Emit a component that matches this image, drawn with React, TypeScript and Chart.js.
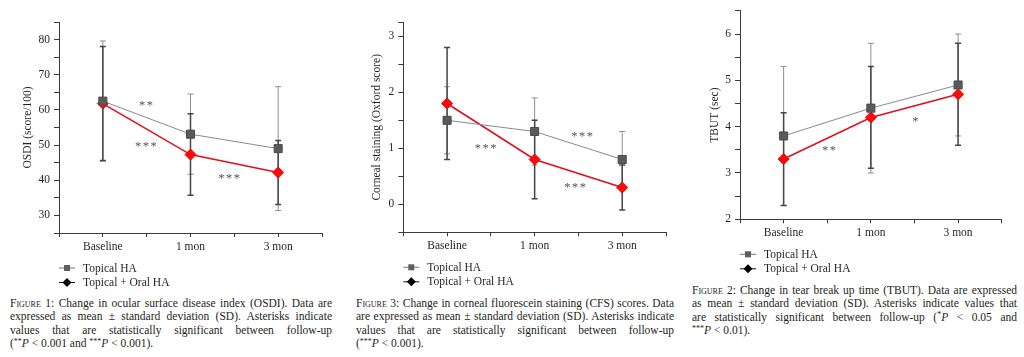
import React, { useEffect, useRef } from 'react';
import { Chart, registerables } from 'chart.js';

Chart.register(...registerables);

// ---------- data ----------
const CATEGORIES = ['Baseline', '1 mon', '3 mon'];
const SERIES_NAMES = ['Topical HA', 'Topical + Oral HA'];

// Figure 1: OSDI
const OSDI_TOPICAL = [62.5, 53.1, 49.0];
const OSDI_TOPICAL_SD = [17.1, 11.4, 17.6];
const OSDI_ORAL = [61.8, 47.3, 42.2];
const OSDI_ORAL_SD = [16.2, 11.6, 9.1];
const OSDI_STAR_X = [0.5, 0.5, 1.45];
const OSDI_STAR_Y = [62.0, 50.3, 41.2];
const OSDI_STAR_TEXT = ['**', '***', '***'];

// Figure 3: corneal staining (Oxford score)
const CFS_TOPICAL = [1.5, 1.3, 0.8];
const CFS_TOPICAL_SD = [0.6, 0.6, 0.5];
const CFS_ORAL = [1.8, 0.8, 0.3];
const CFS_ORAL_SD = [1.0, 0.7, 0.4];
const CFS_STAR_X = [0.45, 1.55, 1.47];
const CFS_STAR_Y = [1.04, 1.25, 0.34];
const CFS_STAR_TEXT = ['***', '***', '***'];

// Figure 2: TBUT
const TBUT_TOPICAL = [3.8, 4.4, 4.9];
const TBUT_TOPICAL_SD = [1.5, 1.4, 1.1];
const TBUT_ORAL = [3.3, 4.2, 4.7];
const TBUT_ORAL_SD = [1.0, 1.1, 1.1];
const TBUT_STAR_X = [0.53, 1.52];
const TBUT_STAR_Y = [3.53, 4.17];
const TBUT_STAR_TEXT = ['**', '*'];

// ---------- styling / layout ----------
const SERIF = '"Liberation Serif", "Times New Roman", serif';
const AXIS_COLOR = '#3a3a3a';
const TEXT_COLOR = '#231f20';

type PanelSpec = {
  left: number; top: number; width: number; height: number;
  area: { l: number; t: number; r: number; b: number };
  yMin: number; yMax: number; yStep: number;
  yLabelMin: number; yLabelMax: number; yLabelStep: number;
  yTitle: string; titleX: number;
  topical: number[]; topicalSd: number[]; oral: number[]; oralSd: number[];
  starX: number[]; starY: number[]; starText: string[];
};

const PANELS: PanelSpec[] = [
  {
    left: 0, top: 0, width: 340, height: 292,
    area: { l: 59, t: 22, r: 322, b: 233 },
    yMin: 25, yMax: 85, yStep: 5, yLabelMin: 30, yLabelMax: 80, yLabelStep: 10,
    yTitle: 'OSDI (score/100)', titleX: 28,
    topical: OSDI_TOPICAL, topicalSd: OSDI_TOPICAL_SD, oral: OSDI_ORAL, oralSd: OSDI_ORAL_SD,
    starX: OSDI_STAR_X, starY: OSDI_STAR_Y, starText: OSDI_STAR_TEXT,
  },
  {
    left: 340, top: 0, width: 340, height: 292,
    area: { l: 63.3, t: 22.3, r: 326, b: 232.3 },
    yMin: -0.5, yMax: 3.25, yStep: 0.5, yLabelMin: 0, yLabelMax: 3, yLabelStep: 1,
    yTitle: 'Corneal staining (Oxford score)', titleX: 36.7,
    topical: CFS_TOPICAL, topicalSd: CFS_TOPICAL_SD, oral: CFS_ORAL, oralSd: CFS_ORAL_SD,
    starX: CFS_STAR_X, starY: CFS_STAR_Y, starText: CFS_STAR_TEXT,
  },
  {
    left: 680, top: 0, width: 344, height: 276,
    area: { l: 60, t: 8.3, r: 321.7, b: 219.3 },
    yMin: 2, yMax: 6.5, yStep: 0.5, yLabelMin: 2, yLabelMax: 6, yLabelStep: 1,
    yTitle: 'TBUT (sec)', titleX: 35,
    topical: TBUT_TOPICAL, topicalSd: TBUT_TOPICAL_SD, oral: TBUT_ORAL, oralSd: TBUT_ORAL_SD,
    starX: TBUT_STAR_X, starY: TBUT_STAR_Y, starText: TBUT_STAR_TEXT,
  },
];

const near = (a: number, b: number) => Math.abs(a - b) < 1e-6;

const errorBarPlugin = {
  id: 'errorBars',
  beforeDatasetsDraw(chart: any) {
    const { ctx } = chart;
    const xs = chart.scales.x;
    const ys = chart.scales.y;
    chart.data.datasets.forEach((ds: any) => {
      ctx.save();
      ctx.strokeStyle = ds.errorColor;
      ctx.lineWidth = ds.errorWidth;
      ds.data.forEach((p: any, j: number) => {
        const sd = ds.sd[j];
        const x = xs.getPixelForValue(p.x);
        const yt = ys.getPixelForValue(p.y + sd);
        const yb = ys.getPixelForValue(p.y - sd);
        ctx.beginPath();
        ctx.moveTo(x, yt);
        ctx.lineTo(x, yb);
        ctx.moveTo(x - 3, yt);
        ctx.lineTo(x + 3, yt);
        ctx.moveTo(x - 3, yb);
        ctx.lineTo(x + 3, yb);
        ctx.stroke();
      });
      ctx.restore();
    });
  },
};

const annotationPlugin = {
  id: 'starsAndLegend',
  afterDraw(chart: any) {
    const { ctx, chartArea } = chart;
    const xs = chart.scales.x;
    const ys = chart.scales.y;
    const spec: PanelSpec = chart.options.plugins.panelSpec;
    // significance asterisks
    ctx.save();
    ctx.fillStyle = '#555';
    ctx.font = `12.5px ${SERIF}`;
    ctx.textAlign = 'center';
    ctx.textBaseline = 'alphabetic';
    (ctx as any).letterSpacing = '1.5px';
    spec.starText.forEach((t, i) => {
      const x = xs.getPixelForValue(spec.starX[i]);
      const y = ys.getPixelForValue(spec.starY[i]);
      ctx.fillText(t, x, y + 6);
    });
    ctx.restore();

    // legend
    ctx.save();
    const L = chartArea.left;
    const rows = [chartArea.bottom + 35, chartArea.bottom + 49.5];
    ctx.font = `11.5px ${SERIF}`;
    ctx.textBaseline = 'middle';
    ctx.textAlign = 'left';
    // Topical HA
    ctx.strokeStyle = '#777';
    ctx.lineWidth = 1;
    ctx.beginPath();
    ctx.moveTo(L, rows[0]);
    ctx.lineTo(L + 16, rows[0]);
    ctx.stroke();
    ctx.fillStyle = '#5e5e5e';
    ctx.fillRect(L + 5, rows[0] - 3, 6, 6);
    ctx.fillStyle = TEXT_COLOR;
    ctx.fillText(SERIES_NAMES[0], L + 24, rows[0] + 0.5);
    // Topical + Oral HA
    ctx.strokeStyle = '#111';
    ctx.beginPath();
    ctx.moveTo(L, rows[1]);
    ctx.lineTo(L + 16, rows[1]);
    ctx.stroke();
    ctx.fillStyle = '#000';
    ctx.beginPath();
    ctx.moveTo(L + 8, rows[1] - 4.5);
    ctx.lineTo(L + 12.5, rows[1]);
    ctx.lineTo(L + 8, rows[1] + 4.5);
    ctx.lineTo(L + 3.5, rows[1]);
    ctx.closePath();
    ctx.fill();
    ctx.fillStyle = TEXT_COLOR;
    ctx.fillText(SERIES_NAMES[1], L + 24, rows[1] + 0.5);
    ctx.restore();
  },
};

function Panel({ spec }: { spec: PanelSpec }) {
  const ref = useRef<HTMLCanvasElement>(null);
  useEffect(() => {
    const s = spec;
    const pts = (ys: number[]) => ys.map((y, i) => ({ x: i, y }));
    const tickFont = { family: SERIF, size: 11.5 };
    const chart = new Chart(ref.current as HTMLCanvasElement, {
      type: 'line',
      data: {
        datasets: [
          {
            label: SERIES_NAMES[0],
            data: pts(s.topical),
            sd: s.topicalSd,
            errorColor: '#8f8f8f',
            errorWidth: 1,
            borderColor: '#8a8a8a',
            borderWidth: 1,
            pointStyle: 'rect',
            pointRadius: 5.7,
            pointBackgroundColor: '#5a5a5a',
            pointBorderColor: '#4a4a4a',
            pointBorderWidth: 1,
            tension: 0,
          } as any,
          {
            label: SERIES_NAMES[1],
            data: pts(s.oral),
            sd: s.oralSd,
            errorColor: '#454545',
            errorWidth: 1.5,
            borderColor: '#e0101a',
            borderWidth: 1.6,
            pointStyle: 'rectRot',
            pointRadius: 5.5,
            pointBackgroundColor: '#ff0a0a',
            pointBorderColor: '#f20000',
            pointBorderWidth: 1,
            tension: 0,
          } as any,
        ],
      },
      options: {
        animation: false,
        responsive: false,
        devicePixelRatio: 1,
        layout: { padding: { left: 0, top: s.area.t, right: s.width - s.area.r, bottom: 0 } },
        plugins: {
          legend: { display: false },
          tooltip: { enabled: false },
          panelSpec: s,
        } as any,
        scales: {
          x: {
            type: 'linear',
            min: -0.5,
            max: 2.5,
            afterFit: (sc: any) => { sc.height = s.height - s.area.b; },
            grid: { drawOnChartArea: false, drawTicks: true, tickLength: 4, color: AXIS_COLOR },
            border: { display: true, color: AXIS_COLOR, width: 1 },
            ticks: {
              stepSize: 0.5,
              autoSkip: false,
              maxRotation: 0,
              minRotation: 0,
              padding: 3,
              color: TEXT_COLOR,
              font: tickFont,
              callback: (v: any) => {
                const r = Math.round(v);
                return near(v, r) && r >= 0 && r < CATEGORIES.length ? CATEGORIES[r] : '';
              },
            },
          },
          y: {
            type: 'linear',
            min: s.yMin,
            max: s.yMax,
            afterFit: (sc: any) => { sc.width = s.area.l; },
            grid: { drawOnChartArea: false, drawTicks: true, tickLength: 5, color: AXIS_COLOR },
            border: { display: true, color: AXIS_COLOR, width: 1 },
            title: {
              display: true,
              text: s.yTitle,
              color: TEXT_COLOR,
              font: { family: SERIF, size: 11.5 },
              padding: { top: s.titleX - 6.9, bottom: 0 },
            },
            ticks: {
              stepSize: s.yStep,
              autoSkip: false,
              padding: 4,
              color: TEXT_COLOR,
              font: tickFont,
              callback: (v: any) => {
                const k = (v - s.yLabelMin) / s.yLabelStep;
                return v >= s.yLabelMin - 1e-6 && v <= s.yLabelMax + 1e-6 && near(k, Math.round(k))
                  ? String(Math.round(v * 100) / 100)
                  : '';
              },
            },
          },
        },
      } as any,
      plugins: [errorBarPlugin, annotationPlugin],
    });
    return () => chart.destroy();
  }, [spec]);
  return (
    <canvas
      ref={ref}
      width={spec.width}
      height={spec.height}
      style={{ position: 'absolute', left: spec.left, top: spec.top, width: spec.width, height: spec.height }}
    />
  );
}

// ---------- captions ----------
const CAP_FONT = 11.5;
const CAP_LH = 13.4;

function Line({ children, last }: { children: React.ReactNode; last?: boolean }) {
  return (
    <div
      style={{
        height: CAP_LH,
        lineHeight: `${CAP_LH}px`,
        whiteSpace: 'nowrap',
        textAlign: last ? 'left' : 'justify',
        textAlignLast: last ? 'left' : 'justify',
      } as React.CSSProperties}
    >
      {children}
    </div>
  );
}

const Fig = ({ n }: { n: number }) => (
  <span><span style={{ fontVariant: 'small-caps' }}>Figure</span> {n}:</span>
);
const Sup = ({ t }: { t: string }) => (
  <span style={{ fontSize: 8, position: 'relative', top: -3.5 }}>{t}</span>
);
const P = () => <i>P</i>;

function Caption({ left, top, width, children }: { left: number; top: number; width: number; children: React.ReactNode }) {
  return (
    <div
      style={{
        position: 'absolute', left, top, width,
        fontFamily: SERIF, fontSize: CAP_FONT, color: TEXT_COLOR,
      }}
    >
      {children}
    </div>
  );
}

export default function App() {
  return (
    <div
      style={{
        position: 'absolute', left: 0, top: 0, width: 1024, height: 357,
        background: '#fff', overflow: 'hidden',
      }}
    >
      {PANELS.map((p, i) => <Panel key={i} spec={p} />)}

      <Caption left={10} top={297} width={322}>
        <Line><Fig n={1} /> Change in ocular surface disease index (OSDI). Data are</Line>
        <Line>expressed as mean ± standard deviation (SD). Asterisks indicate</Line>
        <Line>values that are statistically significant between follow-up</Line>
        <Line last>(<Sup t="**" /><P /> &lt; 0.001 and <Sup t="***" /><P /> &lt; 0.001).</Line>
      </Caption>

      <Caption left={356} top={297} width={318}>
        <Line><Fig n={3} /> Change in corneal fluorescein staining (CFS) scores. Data</Line>
        <Line>are expressed as mean ± standard deviation (SD). Asterisks indicate</Line>
        <Line>values that are statistically significant between follow-up</Line>
        <Line last>(<Sup t="***" /><P /> &lt; 0.001).</Line>
      </Caption>

      <Caption left={692} top={284} width={325}>
        <Line><Fig n={2} /> Change in tear break up time (TBUT). Data are expressed</Line>
        <Line>as mean ± standard deviation (SD). Asterisks indicate values that</Line>
        <Line>are statistically significant between follow-up (<Sup t="*" /><P /> &lt; 0.05 and</Line>
        <Line last><Sup t="***" /><P /> &lt; 0.01).</Line>
      </Caption>
    </div>
  );
}
